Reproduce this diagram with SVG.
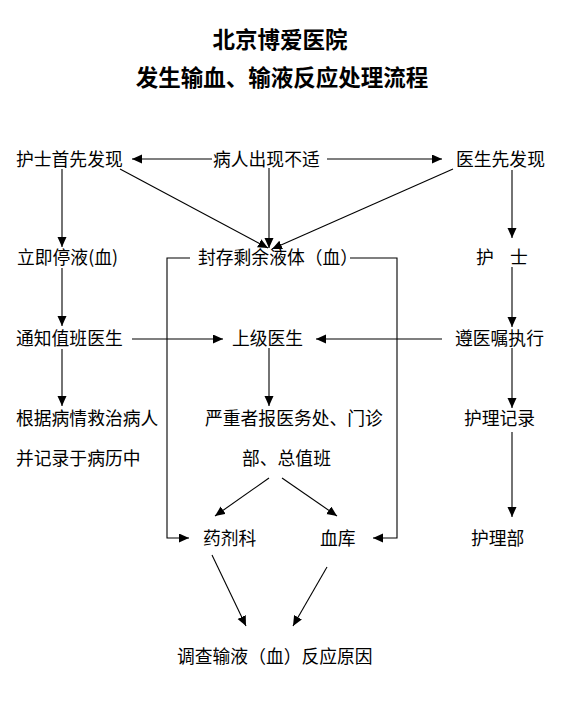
<svg xmlns="http://www.w3.org/2000/svg" width="566" height="710" viewBox="0 0 566 710">
<style>
.t{font-family:"Noto Sans CJK SC","Liberation Sans",sans-serif;font-size:17.8px;fill:#000}
.h{font-family:"Noto Sans CJK SC","Liberation Sans",sans-serif;font-size:22.5px;font-weight:bold;fill:#000;text-anchor:middle}
.c{fill:none;stroke:#000;stroke-width:1.1}
.a{marker-end:url(#ah)}
</style>
<defs>
<marker id="ah" markerUnits="userSpaceOnUse" markerWidth="12" markerHeight="10" refX="10" refY="4.5" orient="auto">
<path d="M0,0 L10,4.5 L0,9 Z" fill="#000"/>
</marker>
</defs>
<rect width="566" height="710" fill="#fff"/>
<g id="title"><text class="h" x="280" y="48">北京博爱医院</text><text class="h" x="282" y="86">发生输血、输液反应处理流程</text></g>
<g id="n_nurse_first"><text class="t" x="16" y="166">护士首先发现</text></g>
<g id="n_patient"><text class="t" x="213" y="166">病人出现不适</text></g>
<g id="n_doctor_first"><text class="t" x="456" y="166">医生先发现</text></g>
<g id="n_stop"><text class="t" x="17" y="264">立即停液(血)</text></g>
<g id="n_seal"><text class="t" x="198" y="264">封存剩余液体（血）</text></g>
<g id="n_nurse"><text class="t" y="264"><tspan x="476">护</tspan><tspan x="510">士</tspan></text></g>
<g id="n_notify"><text class="t" x="16" y="345">通知值班医生</text></g>
<g id="n_superior"><text class="t" x="232" y="345">上级医生</text></g>
<g id="n_order"><text class="t" x="455" y="345">遵医嘱执行</text></g>
<g id="n_treat"><text class="t" x="16" y="425">根据病情救治病人</text><text class="t" x="16" y="465">并记录于病历中</text></g>
<g id="n_report"><text class="t" x="205" y="425">严重者报医务处、门诊</text><text class="t" x="242" y="465">部、总值班</text></g>
<g id="n_record"><text class="t" x="464" y="425">护理记录</text></g>
<g id="n_pharmacy"><text class="t" x="203" y="545">药剂科</text></g>
<g id="n_bloodbank"><text class="t" x="320" y="545">血库</text></g>
<g id="n_nursing_dept"><text class="t" x="471" y="545">护理部</text></g>
<g id="n_investigate"><text class="t" x="177" y="663">调查输液（血）反应原因</text></g>
<g id="connectors">
<line class="c a" x1="212" y1="159" x2="132" y2="159"/>
<line class="c a" x1="327" y1="159" x2="442" y2="159"/>
<line class="c a" x1="120" y1="169" x2="268" y2="248"/>
<line class="c a" x1="269" y1="168" x2="269" y2="248"/>
<line class="c a" x1="453" y1="169" x2="272" y2="249"/>
<line class="c a" x1="62" y1="169" x2="62" y2="247"/>
<line class="c a" x1="512" y1="170" x2="512" y2="238"/>
<line class="c a" x1="62" y1="268" x2="62" y2="326"/>
<line class="c a" x1="512" y1="267" x2="512" y2="327"/>
<line class="c a" x1="132" y1="339" x2="223" y2="339"/>
<line class="c a" x1="442" y1="339" x2="316" y2="339"/>
<line class="c a" x1="62" y1="349" x2="62" y2="406"/>
<line class="c a" x1="269" y1="348" x2="269" y2="406"/>
<line class="c a" x1="512" y1="348" x2="512" y2="408"/>
<line class="c a" x1="512" y1="432" x2="512" y2="517"/>
<line class="c a" x1="269" y1="478" x2="215" y2="516"/>
<line class="c a" x1="282" y1="478" x2="337" y2="516"/>
<polyline class="c a" points="190,258 167,258 167,538 189,538"/>
<polyline class="c a" points="350,258 397,258 397,538 373,538"/>
<line class="c a" x1="212" y1="555" x2="246" y2="626"/>
<line class="c a" x1="327" y1="567" x2="293" y2="626"/>
</g>
</svg>
